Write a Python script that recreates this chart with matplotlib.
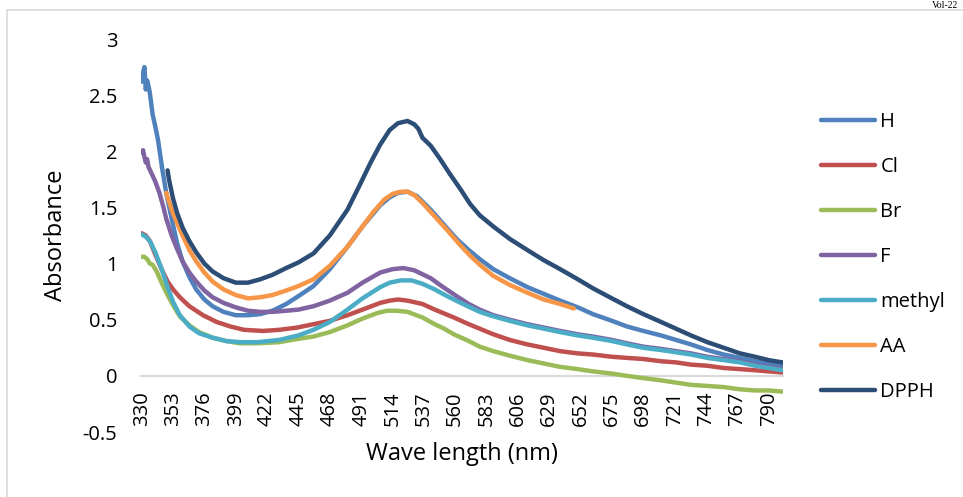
import numpy as np
import matplotlib.pyplot as plt
from matplotlib.patches import Rectangle

plt.rcParams['font.family'] = ['Open Sans', 'DejaVu Sans']

# --- data (wavelength nm, absorbance) ---
h_nm = [330, 331, 332, 333, 334, 335, 336, 338, 340, 342, 345, 348, 352, 356, 360, 365, 370, 376,
        382, 390, 399, 408, 417, 426, 436, 445, 456, 468, 481, 492, 505, 512, 518, 525, 532, 542,
        550, 561, 570, 578, 588, 600, 613, 625, 637, 650, 661, 675, 686, 698, 711, 722, 733, 745,
        757, 769, 780, 790, 800]
h_abs = [2.62, 2.70, 2.75, 2.55, 2.63, 2.58, 2.52, 2.33, 2.22, 2.10, 1.85, 1.63, 1.40, 1.18, 1.02,
         0.88, 0.77, 0.68, 0.62, 0.57, 0.54, 0.54, 0.55, 0.58, 0.64, 0.71, 0.80, 0.95, 1.15, 1.33,
         1.52, 1.59, 1.63, 1.64, 1.60, 1.48, 1.37, 1.22, 1.12, 1.04, 0.95, 0.87, 0.79, 0.73, 0.67,
         0.61, 0.55, 0.49, 0.44, 0.40, 0.36, 0.32, 0.28, 0.23, 0.19, 0.16, 0.13, 0.11, 0.09]

cl_nm = [330, 333, 336, 340, 345, 349, 353, 358, 365, 375, 385, 395, 405, 419, 431, 444, 456, 468,
         481, 492, 505, 512, 518, 525, 536, 545, 559, 570, 578, 588, 600, 613, 625, 637, 650, 661,
         675, 686, 698, 711, 722, 733, 745, 757, 769, 780, 790, 800]
cl_abs = [1.27, 1.25, 1.20, 1.08, 0.94, 0.84, 0.77, 0.70, 0.62, 0.54, 0.48, 0.44, 0.41, 0.40, 0.41,
          0.43, 0.46, 0.49, 0.54, 0.59, 0.65, 0.67, 0.68, 0.67, 0.64, 0.59, 0.52, 0.46, 0.42, 0.37,
          0.32, 0.28, 0.25, 0.22, 0.20, 0.19, 0.17, 0.16, 0.15, 0.13, 0.12, 0.10, 0.09, 0.07, 0.06,
          0.05, 0.04, 0.03]

br_nm = [330, 332, 334, 336, 338, 341, 345, 349, 353, 358, 365, 372, 382, 392, 402, 415, 431, 445,
         456, 468, 481, 492, 503, 510, 517, 525, 536, 545, 552, 559, 570, 578, 588, 600, 613, 625,
         637, 650, 661, 675, 686, 698, 711, 722, 733, 745, 757, 769, 780, 790, 800]
br_abs = [1.06, 1.06, 1.04, 1.00, 0.99, 0.93, 0.82, 0.72, 0.63, 0.53, 0.45, 0.39, 0.34, 0.31, 0.29,
          0.29, 0.30, 0.33, 0.35, 0.39, 0.45, 0.51, 0.56, 0.58, 0.58, 0.57, 0.52, 0.46, 0.42, 0.37,
          0.31, 0.26, 0.22, 0.18, 0.14, 0.11, 0.08, 0.06, 0.04, 0.02, 0.00, -0.02, -0.04, -0.06,
          -0.08, -0.09, -0.10, -0.12, -0.13, -0.13, -0.14]

f_nm = [330, 331, 332, 333, 334, 335, 337, 340, 343, 346, 348, 352, 356, 360, 365, 370, 376, 382,
        390, 399, 408, 417, 426, 436, 445, 456, 468, 481, 492, 505, 514, 522, 530, 542, 550, 561,
        570, 578, 588, 600, 613, 625, 637, 650, 661, 675, 686, 698, 711, 722, 733, 745, 757, 769,
        780, 790, 800]
f_abs = [1.99, 2.01, 1.95, 1.90, 1.93, 1.86, 1.81, 1.73, 1.63, 1.50, 1.40, 1.25, 1.13, 1.02, 0.92,
         0.84, 0.76, 0.70, 0.65, 0.61, 0.58, 0.57, 0.57, 0.58, 0.59, 0.62, 0.67, 0.74, 0.83, 0.92,
         0.95, 0.96, 0.94, 0.87, 0.80, 0.71, 0.64, 0.59, 0.54, 0.50, 0.46, 0.43, 0.40, 0.37, 0.35,
         0.32, 0.29, 0.26, 0.24, 0.22, 0.20, 0.17, 0.15, 0.13, 0.10, 0.08, 0.06]

me_nm = [330, 333, 336, 340, 345, 349, 353, 358, 365, 372, 382, 392, 402, 415, 431, 445, 456, 468,
         481, 492, 505, 512, 520, 528, 536, 545, 554, 564, 578, 588, 600, 613, 625, 637, 650, 661,
         675, 686, 698, 711, 722, 733, 745, 757, 769, 780, 790, 800]
me_abs = [1.26, 1.24, 1.20, 1.10, 0.94, 0.79, 0.66, 0.54, 0.44, 0.38, 0.34, 0.31, 0.30, 0.30, 0.32,
          0.36, 0.41, 0.48, 0.59, 0.69, 0.79, 0.83, 0.85, 0.85, 0.82, 0.77, 0.71, 0.65, 0.57, 0.53,
          0.49, 0.45, 0.42, 0.39, 0.36, 0.34, 0.31, 0.28, 0.25, 0.23, 0.21, 0.19, 0.16, 0.14, 0.12,
          0.09, 0.07, 0.05]

aa_nm = [348, 352, 356, 360, 365, 370, 376, 382, 390, 399, 408, 417, 426, 436, 445, 456, 468, 481,
         492, 500, 508, 514, 520, 525, 530, 536, 545, 554, 564, 571, 578, 588, 600, 613, 625, 637,
         647]
aa_abs = [1.63, 1.48, 1.36, 1.25, 1.12, 1.02, 0.92, 0.84, 0.77, 0.72, 0.69, 0.70, 0.72, 0.76, 0.80,
          0.86, 0.98, 1.15, 1.33, 1.46, 1.57, 1.62, 1.64, 1.64, 1.61, 1.54, 1.42, 1.30, 1.16, 1.07,
          0.99, 0.89, 0.81, 0.74, 0.68, 0.64, 0.60]

dpph_nm = [349, 350, 353, 356, 360, 365, 370, 376, 382, 390, 399, 408, 417, 426, 436, 445, 456, 468,
           481, 490, 498, 505, 512, 518, 525, 530, 533, 536, 542, 549, 556, 564, 571, 578, 588, 600,
           613, 625, 637, 650, 661, 675, 686, 698, 711, 722, 733, 745, 757, 769, 780, 790, 800]
dpph_abs = [1.83, 1.75, 1.58, 1.45, 1.32, 1.20, 1.10, 1.00, 0.93, 0.87, 0.83, 0.83, 0.86, 0.90, 0.96,
            1.01, 1.09, 1.25, 1.48, 1.70, 1.90, 2.06, 2.19, 2.25, 2.27, 2.24, 2.20, 2.12, 2.05, 1.93,
            1.80, 1.66, 1.53, 1.43, 1.33, 1.22, 1.12, 1.03, 0.95, 0.86, 0.78, 0.69, 0.62, 0.55, 0.48,
            0.42, 0.36, 0.30, 0.25, 0.20, 0.17, 0.14, 0.12]

series = [
    ('H', h_nm, h_abs, '#4F81BD'),
    ('Cl', cl_nm, cl_abs, '#C0504D'),
    ('Br', br_nm, br_abs, '#9BBB59'),
    ('F', f_nm, f_abs, '#8064A2'),
    ('methyl', me_nm, me_abs, '#4BACC6'),
    ('AA', aa_nm, aa_abs, '#F79646'),
    ('DPPH', dpph_nm, dpph_abs, '#2C4D75'),
]

tick_nm = list(range(330, 791, 23))

fig = plt.figure(figsize=(9.63, 4.97), dpi=100)
ax = fig.add_axes([141 / 963, 1 - 432 / 497, 642 / 963, 393 / 497])

for name, x, y, c in series:
    ax.plot(x, y, color=c, lw=3.2, label=name, solid_capstyle='round', solid_joinstyle='round')

# move the category axis to y = 0 first (this resets tick settings)
for s in ['top', 'right', 'left']:
    ax.spines[s].set_visible(False)
ax.spines['bottom'].set_position(('data', 0))
ax.spines['bottom'].set_color('#D9D9D9')
ax.spines['bottom'].set_linewidth(1.5)
ax.spines['bottom'].set_zorder(0)

ax.set_xlim(329.5, 800.5)
ax.set_ylim(-0.5, 3)
ax.set_yticks(np.arange(-0.5, 3.01, 0.5))
ax.set_yticklabels(['-0.5', '0', '0.5', '1', '1.5', '2', '2.5', '3'])
ax.set_xticks(tick_nm)
ax.set_xticklabels([str(t) for t in tick_nm])
ax.tick_params(axis='both', length=0, labelsize=14.5, colors='black')
ax.tick_params(axis='y', pad=17)
ax.tick_params(axis='x', pad=11, labelrotation=90)

ax.set_ylabel('Absorbance', fontsize=17)
ax.yaxis.set_label_coords(-0.114, 0.5)
ax.set_xlabel('Wave length (nm)', fontsize=17)
ax.xaxis.set_label_coords(0.5, -0.025)

fig.legend(loc='upper left', bbox_to_anchor=(821 / 963, 1 - 112 / 497), frameon=False,
           fontsize=14.5, handlelength=2.7, handletextpad=0.25, labelspacing=1.24,
           borderpad=0, borderaxespad=0)

# outer frame (cut off at right and bottom in the reference)
fig.patches.append(Rectangle((7 / 963, -0.1), 1.2, 1 - 10 / 497 + 0.1, transform=fig.transFigure,
                             fill=False, edgecolor='#D9D9D9', lw=1.2))
fig.text(958 / 963, 1 - 1 / 497, 'Vol-22', family='Liberation Serif', fontsize=7,
         ha='right', va='top')

fig.savefig('out.png', dpi=100)
